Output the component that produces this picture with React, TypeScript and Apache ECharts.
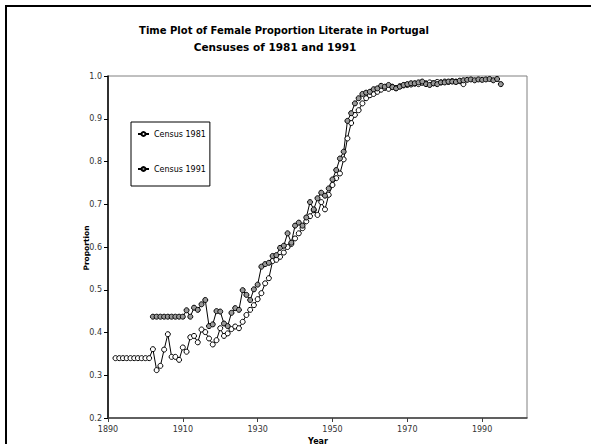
import React, { useEffect, useRef } from "react";
import * as echarts from "echarts";

const TITLE_LINE_1 = "Time Plot of Female Proportion Literate in Portugal";
const TITLE_LINE_2 = "Censuses of 1981 and 1991";
const X_NAME = "Year";
const Y_NAME = "Proportion";

const xTicks = [1890, 1910, 1930, 1950, 1970, 1990];
const yTicks = [0.2, 0.3, 0.4, 0.5, 0.6, 0.7, 0.8, 0.9, 1.0];

const start1981 = 1892;
const census1981 = [
  0.34, 0.34, 0.34, 0.34, 0.34, 0.34, 0.34, 0.34, 0.34, 0.34,
  0.361, 0.312, 0.322, 0.36, 0.396, 0.343, 0.343, 0.336, 0.365, 0.355,
  0.389, 0.392, 0.377, 0.407, 0.401, 0.386, 0.372, 0.382, 0.41, 0.392,
  0.398, 0.408, 0.414, 0.41, 0.425, 0.441, 0.453, 0.464, 0.478, 0.492,
  0.515, 0.527, 0.567, 0.57, 0.577, 0.587, 0.6, 0.607, 0.62, 0.632,
  0.644, 0.66, 0.672, 0.686, 0.675, 0.705, 0.688, 0.722, 0.745, 0.761,
  0.772, 0.805, 0.854, 0.89, 0.909, 0.92, 0.936, 0.948, 0.955, 0.958,
  0.963, 0.968, 0.972, 0.97, 0.975, 0.972, 0.976, 0.978, 0.979, 0.98,
  0.982, 0.981, 0.984, 0.983, 0.985, 0.983, 0.986, 0.985, 0.987, 0.986,
  0.988, 0.987, 0.988, 0.981,
];

const start1991 = 1902;
const census1991 = [
  0.437, 0.437, 0.437, 0.437, 0.437, 0.437, 0.437, 0.437, 0.437,
  0.452, 0.437, 0.458, 0.453, 0.466, 0.476, 0.415, 0.419, 0.45, 0.449,
  0.421, 0.415, 0.446, 0.457, 0.453, 0.499, 0.488, 0.476, 0.501, 0.512,
  0.554, 0.56, 0.563, 0.579, 0.581, 0.598, 0.603, 0.632, 0.61, 0.65,
  0.657, 0.65, 0.669, 0.705, 0.688, 0.714, 0.727, 0.72, 0.737, 0.758,
  0.78, 0.807, 0.823, 0.895, 0.913, 0.936, 0.948, 0.958, 0.961, 0.963,
  0.969, 0.971, 0.977, 0.975, 0.979, 0.974, 0.971, 0.975, 0.979, 0.981,
  0.983, 0.983, 0.985, 0.987, 0.981, 0.979, 0.983, 0.981, 0.985, 0.985,
  0.987, 0.987, 0.986, 0.989, 0.99, 0.991, 0.992, 0.99, 0.992, 0.991,
  0.992, 0.993, 0.99, 0.993, 0.981,
];

const FONT = "DejaVu Sans";

export default function App() {
  const ref = useRef<HTMLDivElement>(null);

  useEffect(() => {
    if (!ref.current) return;
    const chart = echarts.init(ref.current, undefined, { renderer: "svg" });
    const d1981 = census1981.map((v, i) => [start1981 + i, v]);
    const d1991 = census1991.map((v, i) => [start1991 + i, v]);

    chart.setOption({
      animation: false,
      backgroundColor: "#ffffff",
      textStyle: { fontFamily: FONT },
      grid: {
        left: 108,
        top: 76,
        width: 419,
        height: 342,
        show: true,
        borderColor: "#808080",
        borderWidth: 1,
        backgroundColor: "transparent",
      },
      xAxis: {
        type: "value",
        min: 1890,
        max: 2002,
        interval: 20,
        axisLine: { show: true, lineStyle: { color: "#404040", width: 1.5 } },
        axisTick: { show: true, length: 4, customValues: xTicks, lineStyle: { color: "#404040" } },
        axisLabel: {
          customValues: xTicks,
          color: "#333",
          fontSize: 8,
          fontFamily: FONT,
          margin: 7,
          formatter: (v: number) => String(v),
        },
        splitLine: { show: false },
      },
      yAxis: {
        type: "value",
        min: 0.2,
        max: 1.0,
        interval: 0.1,
        axisLine: { show: true, lineStyle: { color: "#000", width: 1.5 } },
        axisTick: { show: true, length: 4, customValues: yTicks, lineStyle: { color: "#000" } },
        axisLabel: {
          customValues: yTicks,
          color: "#333",
          fontSize: 8,
          fontFamily: FONT,
          margin: 6,
          formatter: (v: number) => v.toFixed(1),
        },
        splitLine: { show: false },
      },
      legend: {
        orient: "vertical",
        left: 131,
        top: 122,
        padding: [7, 4, 12, 6],
        itemGap: 25,
        itemWidth: 11,
        itemHeight: 5,
        borderColor: "#000",
        borderWidth: 1,
        textStyle: { fontSize: 8, color: "#000", fontFamily: FONT, lineHeight: 10 },
        data: ["Census 1981", "Census 1991"],
      },
      graphic: [
        {
          type: "rect",
          shape: { x: 6, y: 6, width: 620, height: 480 },
          style: { fill: "none", stroke: "#000", lineWidth: 2 },
          silent: true,
        },
        {
          type: "text",
          x: 284,
          y: 30,
          style: {
            text: TITLE_LINE_1,
            align: "center",
            verticalAlign: "middle",
            font: `bold 10px "${FONT}"`,
            fill: "#000",
          },
        },
        {
          type: "text",
          x: 275,
          y: 47,
          style: {
            text: TITLE_LINE_2,
            align: "center",
            verticalAlign: "middle",
            font: `bold 10.5px "${FONT}"`,
            fill: "#000",
          },
        },
        {
          type: "text",
          x: 86,
          y: 248,
          rotation: Math.PI / 2,
          style: {
            text: Y_NAME,
            align: "center",
            verticalAlign: "middle",
            font: `bold 7.5px "${FONT}"`,
            fill: "#000",
          },
        },
        {
          type: "text",
          x: 318,
          y: 437,
          style: {
            text: X_NAME,
            align: "center",
            verticalAlign: "top",
            font: `bold 8px "${FONT}"`,
            fill: "#000",
          },
        },
      ],
      series: [
        {
          name: "Census 1981",
          type: "line",
          data: d1981,
          symbol: "circle",
          symbolSize: 5,
          showAllSymbol: true,
          lineStyle: { color: "#000", width: 1 },
          itemStyle: { color: "#ffffff", borderColor: "#000", borderWidth: 1 },
          emphasis: { disabled: true },
        },
        {
          name: "Census 1991",
          type: "line",
          data: d1991,
          symbol: "circle",
          symbolSize: 5,
          showAllSymbol: true,
          lineStyle: { color: "#000", width: 1 },
          itemStyle: { color: "#999999", borderColor: "#000", borderWidth: 1 },
          emphasis: { disabled: true },
        },
      ],
    });

    return () => chart.dispose();
  }, []);

  return (
    <div
      ref={ref}
      style={{ position: "absolute", left: 0, top: 0, width: 591, height: 444 }}
    />
  );
}
